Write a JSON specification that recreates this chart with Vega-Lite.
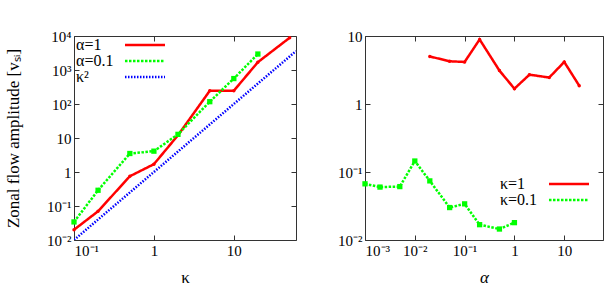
{
  "$schema": "https://vega.github.io/schema/vega-lite/v6.json",
  "padding": {"left": 4, "top": 28, "right": 5, "bottom": 5},
  "spacing": 37,
  "config": {
    "font": "Liberation Serif",
    "view": {"stroke": "#333", "strokeWidth": 1},
    "axis": {"grid": false, "domain": false, "tickSize": -5, "tickColor": "#333", "labelFontSize": 15, "labelFont": "Liberation Serif", "labelColor": "#000", "titleFontSize": 17, "titleFont": "Liberation Serif", "titleFontWeight": "normal", "titleColor": "#000", "labelPadding": 8},
    "legend": {"orient": "none", "symbolType": "M-3,0H3", "symbolSize": 178, "labelFont": "Liberation Serif", "labelFontSize": 16, "labelColor": "#000", "labelOffset": -77, "labelAlign": "left", "rowPadding": 0, "title": null}
  },
  "resolve": {"scale": {"color": "independent", "strokeDash": "independent", "strokeWidth": "independent"}, "legend": {"color": "independent", "strokeDash": "independent", "strokeWidth": "independent"}},
  "datasets": {
    "kappa": [
      {"series": "α=1", "kappa": 0.1, "amp": 0.02},
      {"series": "α=1", "kappa": 0.2, "amp": 0.07},
      {"series": "α=1", "kappa": 0.5, "amp": 0.75},
      {"series": "α=1", "kappa": 1, "amp": 1.7},
      {"series": "α=1", "kappa": 2, "amp": 12},
      {"series": "α=1", "kappa": 5, "amp": 245},
      {"series": "α=1", "kappa": 10, "amp": 245},
      {"series": "α=1", "kappa": 20, "amp": 1700},
      {"series": "α=1", "kappa": 50, "amp": 8900},
      {"series": "α=0.1", "kappa": 0.1, "amp": 0.034},
      {"series": "α=0.1", "kappa": 0.2, "amp": 0.29},
      {"series": "α=0.1", "kappa": 0.5, "amp": 3.5},
      {"series": "α=0.1", "kappa": 1, "amp": 4.1},
      {"series": "α=0.1", "kappa": 2, "amp": 12.8},
      {"series": "α=0.1", "kappa": 5, "amp": 117},
      {"series": "α=0.1", "kappa": 10, "amp": 560},
      {"series": "α=0.1", "kappa": 20, "amp": 2950},
      {"series": "κ²", "kappa": 0.1, "amp": 0.01},
      {"series": "κ²", "kappa": 1, "amp": 1},
      {"series": "κ²", "kappa": 10, "amp": 100},
      {"series": "κ²", "kappa": 60, "amp": 3600}
    ],
    "alpha": [
      {"series": "κ=1", "alpha": 0.02, "amp": 5.0},
      {"series": "κ=1", "alpha": 0.05, "amp": 4.25},
      {"series": "κ=1", "alpha": 0.1, "amp": 4.15},
      {"series": "κ=1", "alpha": 0.2, "amp": 8.9},
      {"series": "κ=1", "alpha": 0.5, "amp": 3.1},
      {"series": "κ=1", "alpha": 1, "amp": 1.68},
      {"series": "κ=1", "alpha": 2, "amp": 2.7},
      {"series": "κ=1", "alpha": 5, "amp": 2.45},
      {"series": "κ=1", "alpha": 10, "amp": 4.15},
      {"series": "κ=1", "alpha": 20, "amp": 1.86},
      {"series": "κ=0.1", "alpha": 0.001, "amp": 0.067},
      {"series": "κ=0.1", "alpha": 0.002, "amp": 0.060},
      {"series": "κ=0.1", "alpha": 0.005, "amp": 0.061},
      {"series": "κ=0.1", "alpha": 0.01, "amp": 0.145},
      {"series": "κ=0.1", "alpha": 0.02, "amp": 0.074},
      {"series": "κ=0.1", "alpha": 0.05, "amp": 0.030},
      {"series": "κ=0.1", "alpha": 0.1, "amp": 0.034},
      {"series": "κ=0.1", "alpha": 0.2, "amp": 0.0168},
      {"series": "κ=0.1", "alpha": 0.5, "amp": 0.0145},
      {"series": "κ=0.1", "alpha": 1, "amp": 0.018}
    ]
  },
  "hconcat": [
    {
      "width": 222,
      "height": 204,
      "data": {"name": "kappa"},
      "layer": [
        {
          "mark": {"type": "line", "clip": true},
          "encoding": {
            "x": {"field": "kappa", "type": "quantitative", "scale": {"type": "log", "domain": [0.1, 60], "nice": false},
              "axis": {"values": [0.1, 1, 10], "labelExpr": "datum.value < 0.5 ? '10⁻¹' : datum.value < 5 ? '1' : '10'", "title": "κ", "titlePadding": 11}},
            "y": {"field": "amp", "type": "quantitative", "scale": {"type": "log", "domain": [0.01, 10000], "nice": false},
              "axis": {"values": [0.01, 0.1, 1, 10, 100, 1000, 10000], "labelExpr": "datum.value < 0.05 ? '10⁻²' : datum.value < 0.5 ? '10⁻¹' : datum.value < 5 ? '1' : datum.value < 50 ? '10' : datum.value < 500 ? '10²' : datum.value < 5000 ? '10³' : '10⁴'", "title": "Zonal flow amplitude [vₛᵢ]", "titlePadding": 24}},
            "color": {"field": "series", "type": "nominal", "scale": {"domain": ["α=1", "α=0.1", "κ²"], "range": ["#ff0000", "#00ff00", "#0000ff"]}, "legend": {"legendX": 63, "legendY": 1, "labelFont": "Liberation Serif"}},
            "strokeDash": {"field": "series", "type": "nominal", "scale": {"domain": ["α=1", "α=0.1", "κ²"], "range": [[1, 0], [2.5, 1.5], [1.5, 1.5]]}, "legend": {"legendX": 63, "legendY": 1, "labelFont": "Liberation Serif"}},
            "strokeWidth": {"field": "series", "type": "nominal", "scale": {"domain": ["α=1", "α=0.1", "κ²"], "range": [2.5, 2.5, 1.5]}, "legend": {"legendX": 63, "legendY": 1, "labelFont": "Liberation Serif"}}
          }
        },
        {
          "transform": [{"filter": "datum.series == 'α=1'"}],
          "mark": {"type": "point", "filled": true, "shape": "circle", "size": 12, "color": "#ff0000", "opacity": 1},
          "encoding": {"x": {"field": "kappa", "type": "quantitative", "axis": null}, "y": {"field": "amp", "type": "quantitative", "axis": null}}
        },
        {
          "transform": [{"filter": "datum.series == 'α=0.1'"}],
          "mark": {"type": "point", "filled": true, "shape": "square", "size": 28, "color": "#00ff00", "opacity": 1},
          "encoding": {"x": {"field": "kappa", "type": "quantitative", "axis": null}, "y": {"field": "amp", "type": "quantitative", "axis": null}}
        },
        {
          "mark": {"type": "point", "opacity": 0},
          "encoding": {
            "x": {"field": "kappa", "type": "quantitative", "axis": {"orient": "top", "values": [0.1, 1, 10], "labels": false, "title": null}},
            "y": {"field": "amp", "type": "quantitative", "axis": {"orient": "right", "values": [0.01, 0.1, 1, 10, 100, 1000, 10000], "labels": false, "title": null}}
          }
        }
      ],
      "resolve": {"axis": {"x": "independent", "y": "independent"}}
    },
    {
      "width": 238,
      "height": 204,
      "data": {"name": "alpha"},
      "layer": [
        {
          "mark": {"type": "line", "clip": true},
          "encoding": {
            "x": {"field": "alpha", "type": "quantitative", "scale": {"type": "log", "domain": [0.001, 60], "nice": false},
              "axis": {"values": [0.001, 0.01, 0.1, 1, 10], "labelExpr": "datum.value < 0.005 ? '10⁻³' : datum.value < 0.05 ? '10⁻²' : datum.value < 0.5 ? '10⁻¹' : datum.value < 5 ? '1' : '10'", "title": "α", "titleFontStyle": "italic", "titlePadding": 11}},
            "y": {"field": "amp", "type": "quantitative", "scale": {"type": "log", "domain": [0.01, 10], "nice": false},
              "axis": {"values": [0.01, 0.1, 1, 10], "labelExpr": "datum.value < 0.05 ? '10⁻²' : datum.value < 0.5 ? '10⁻¹' : datum.value < 5 ? '1' : '10'", "title": null}},
            "color": {"field": "series", "type": "nominal", "scale": {"domain": ["κ=1", "κ=0.1"], "range": ["#ff0000", "#00ff00"]}, "legend": {"legendX": 196, "legendY": 140, "labelFont": "Liberation Serif"}},
            "strokeDash": {"field": "series", "type": "nominal", "scale": {"domain": ["κ=1", "κ=0.1"], "range": [[1, 0], [2.5, 1.5]]}, "legend": {"legendX": 196, "legendY": 140, "labelFont": "Liberation Serif"}},
            "strokeWidth": {"field": "series", "type": "nominal", "scale": {"domain": ["κ=1", "κ=0.1"], "range": [2.5, 2.5]}, "legend": {"legendX": 196, "legendY": 140, "labelFont": "Liberation Serif"}}
          }
        },
        {
          "transform": [{"filter": "datum.series == 'κ=1'"}],
          "mark": {"type": "point", "filled": true, "shape": "circle", "size": 12, "color": "#ff0000", "opacity": 1},
          "encoding": {"x": {"field": "alpha", "type": "quantitative", "axis": null}, "y": {"field": "amp", "type": "quantitative", "axis": null}}
        },
        {
          "transform": [{"filter": "datum.series == 'κ=0.1'"}],
          "mark": {"type": "point", "filled": true, "shape": "square", "size": 28, "color": "#00ff00", "opacity": 1},
          "encoding": {"x": {"field": "alpha", "type": "quantitative", "axis": null}, "y": {"field": "amp", "type": "quantitative", "axis": null}}
        },
        {
          "mark": {"type": "point", "opacity": 0},
          "encoding": {
            "x": {"field": "alpha", "type": "quantitative", "axis": {"orient": "top", "values": [0.001, 0.01, 0.1, 1, 10], "labels": false, "title": null}},
            "y": {"field": "amp", "type": "quantitative", "axis": {"orient": "right", "values": [0.01, 0.1, 1, 10], "labels": false, "title": null}}
          }
        }
      ],
      "resolve": {"axis": {"x": "independent", "y": "independent"}}
    }
  ]
}
